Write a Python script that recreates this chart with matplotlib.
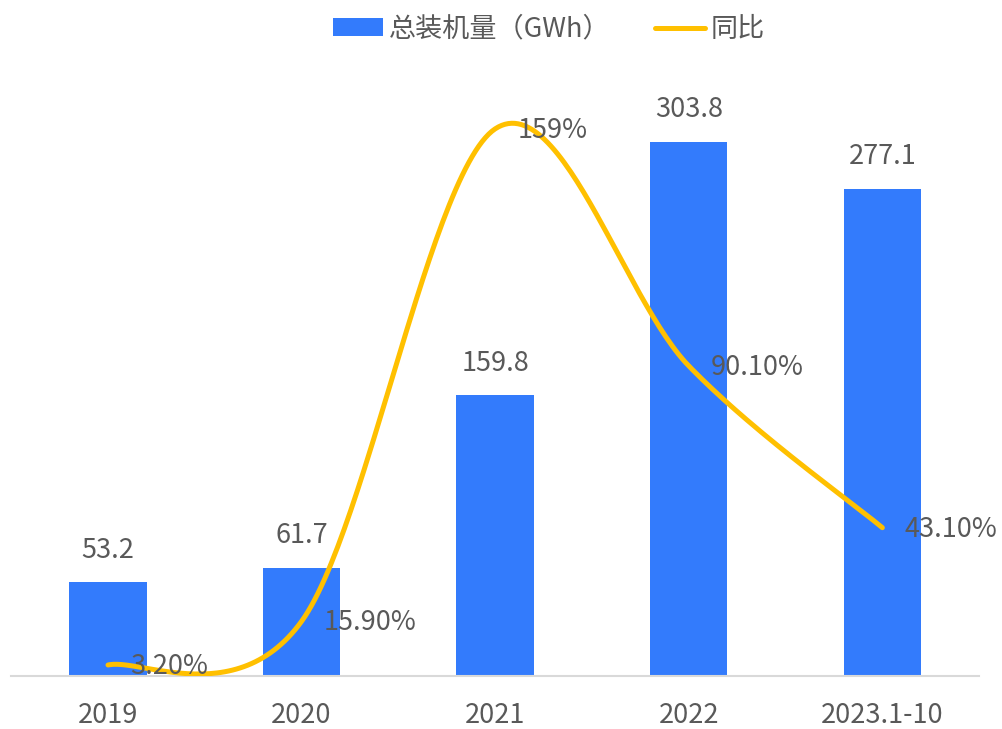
import numpy as np
import matplotlib
matplotlib.use('Agg')
from matplotlib import pyplot as plt
from matplotlib.patches import Patch
from matplotlib.lines import Line2D

plt.rcParams['font.family'] = ['Noto Sans CJK SC', 'DejaVu Sans']

years = ['2019', '2020', '2021', '2022', '2023.1-10']
capacity = [53.2, 61.7, 159.8, 303.8, 277.1]
growth = [3.2, 15.9, 159, 90.1, 43.1]
growth_labels = ['3.20%', '15.90%', '159%', '90.10%', '43.10%']

bar_color = '#337BFC'
line_color = '#FFC000'
text_color = '#595959'
fs = 19.5


def smooth(xs, ys, n=60):
    # excel-style smoothed line (bezier, catmull-rom control points)
    pts = np.column_stack([xs, ys]).astype(float)
    pad = np.vstack([pts[0], pts, pts[-1]])
    out = []
    for i in range(len(pts) - 1):
        p0, p1, p2, p3 = pad[i], pad[i + 1], pad[i + 2], pad[i + 3]
        c1 = p1 + (p2 - p0) / 6
        c2 = p2 - (p3 - p1) / 6
        t = np.linspace(0, 1, n)[:, None]
        seg = ((1 - t) ** 3) * p1 + 3 * ((1 - t) ** 2) * t * c1 + 3 * (1 - t) * t ** 2 * c2 + t ** 3 * p2
        out.append(seg if i == 0 else seg[1:])
    out = np.vstack(out)
    return out[:, 0], out[:, 1]


fig = plt.figure(figsize=(10.02, 7.29), dpi=100)
ax = fig.add_axes([0.0112, 0.0727, 0.966, 0.845])
x = np.arange(len(years))

ax.bar(x, capacity, width=0.4, color=bar_color, zorder=2)
for xi, v in zip(x, capacity):
    ax.annotate(f'{v:.1f}', (xi, v), xytext=(0, 23), textcoords='offset points',
                ha='center', va='center', fontsize=fs, color=text_color)

ax.set_xlim(-0.5, 4.5)
ax.set_ylim(0, 350.4)
ax.set_yticks([])
ax.set_xticks(x)
ax.set_xticklabels(years, fontsize=fs, color=text_color)
ax.tick_params(axis='x', length=0, pad=19)
for s in ['top', 'right', 'left']:
    ax.spines[s].set_visible(False)
ax.spines['bottom'].set_color('#D9D9D9')
ax.spines['bottom'].set_linewidth(1.5)

ax2 = ax.twinx()
ax2.set_ylim(0, 179)
ax2.set_yticks([])
for s in ['top', 'right', 'left', 'bottom']:
    ax2.spines[s].set_visible(False)
sx, sy = smooth(x, growth)
ax2.plot(sx, sy, color=line_color, linewidth=3.6, solid_capstyle='round', zorder=3)
for xi, v, lab in zip(x, growth, growth_labels):
    ax2.annotate(lab, (xi, v), xytext=(16, -1), textcoords='offset points',
                 ha='left', va='center', fontsize=fs, color=text_color)

handles = [Patch(facecolor=bar_color, edgecolor='none'),
           Line2D([0], [0], color=line_color, linewidth=3.6, solid_capstyle='round')]
fig.legend(handles, ['总装机量（GWh）', '同比'], loc='upper center',
           bbox_to_anchor=(0.548, 1.012), ncol=2, frameon=False, fontsize=fs,
           labelcolor=text_color, handlelength=1.85, handleheight=0.6,
           handletextpad=0.2, columnspacing=1.65)

fig.savefig('out.png', dpi=100)
